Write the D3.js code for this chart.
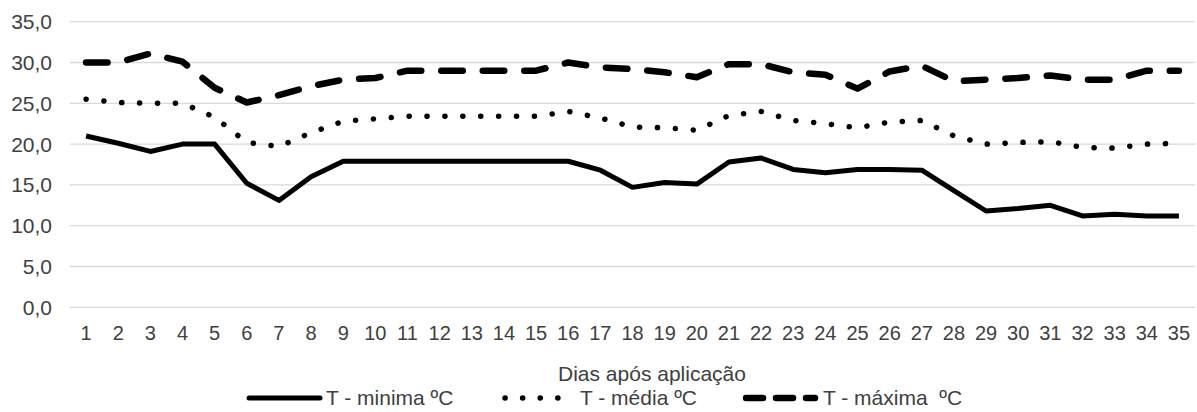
<!DOCTYPE html>
<html><head><meta charset="utf-8">
<script src="https://cdn.jsdelivr.net/npm/d3@7/dist/d3.min.js"></script>
<style>
body{margin:0;background:#fff;}
text{font-family:"Liberation Sans",Arial,sans-serif;fill:#404040;}
</style></head>
<body><svg id="c" width="1197" height="412"></svg>
<script>
const days = d3.range(1, 36).map(String);
const tMin = [21.0,20.1,19.1,20.0,20.0,15.2,13.1,16.0,17.9,17.9,17.9,17.9,17.9,17.9,17.9,17.9,16.8,14.7,15.3,15.1,17.8,18.3,16.9,16.5,16.9,16.9,16.8,14.3,11.8,12.1,12.5,11.2,11.4,11.2,11.2];
const tMed = [25.5,25.1,25.0,25.0,23.3,20.2,19.7,21.4,22.8,23.1,23.4,23.4,23.4,23.4,23.4,24.0,23.2,22.1,22.0,21.7,23.5,24.0,22.9,22.5,22.0,22.7,22.9,21.0,20.0,20.2,20.3,19.6,19.5,20.0,20.1];
const tMax = [30.0,30.0,31.1,30.1,26.9,25.1,26.0,27.1,27.9,28.1,29.0,29.0,29.0,29.0,29.0,30.0,29.4,29.2,28.8,28.2,29.8,29.8,28.8,28.5,26.8,28.9,29.6,27.7,27.9,28.1,28.4,27.9,27.9,29.0,29.0];
const yTicks = [0,5,10,15,20,25,30,35];
const seriesNames = ["T - minima ºC","T - média ºC","T - máxima  ºC"];

const svg = d3.select("#c");
const x = d3.scaleBand().domain(days).range([70,1195]);
const y = d3.scaleLinear().domain([0,35]).range([307.3,21.7]);

svg.append("g").selectAll("line").data(yTicks).join("line")
  .attr("x1",70).attr("x2",1195).attr("y1",d=>y(d)).attr("y2",d=>y(d))
  .attr("stroke","#d9d9d9").attr("stroke-width",1.3);

svg.append("g").selectAll("text").data(yTicks).join("text")
  .attr("x",52).attr("y",d=>y(d)+7.5).attr("text-anchor","end")
  .attr("font-size",21).text(d=>d.toFixed(1).replace(".",","));

svg.append("g").selectAll("text").data(days).join("text")
  .attr("x",d=>x(d)+x.bandwidth()/2).attr("y",339.5).attr("text-anchor","middle")
  .attr("font-size",20).text(d=>d);

svg.append("text").attr("x",652).attr("y",381).attr("text-anchor","middle")
  .attr("font-size",21).text("Dias após aplicação");

const styles = [
  {w:5, dash:null, cap:"butt"},
  {w:5.5, dash:"0.1 17.8", cap:"round"},
  {w:6.5, dash:"21.5 20", cap:"round"}
];
const data = [tMin,tMed,tMax];
const line = d3.line().x((d,i)=>x(days[i])+x.bandwidth()/2).y(d=>y(d));
data.forEach((s,k)=>{
  const p = svg.append("path").attr("d",line(s)).attr("fill","none").attr("stroke","#000")
    .attr("stroke-width",styles[k].w).attr("stroke-linecap",styles[k].cap).attr("stroke-linejoin","round");
  if(styles[k].dash) p.attr("stroke-dasharray",styles[k].dash);
});

// legend
const lg = [
  {x1:249,x2:320,tx:326,dash:null},
  {x1:505,x2:575,tx:580,dash:"0.1 17.5"},
  {x1:746,x2:815,tx:823,dash:"17 13"}
];
lg.forEach((l,k)=>{
  const p = svg.append("line").attr("x1",l.x1).attr("x2",l.x2).attr("y1",398).attr("y2",398)
    .attr("stroke","#000").attr("stroke-width",styles[k].w).attr("stroke-linecap",k==0?"round":styles[k].cap);
  if(l.dash) p.attr("stroke-dasharray",l.dash);
  svg.append("text").attr("x",l.tx).attr("y",405).attr("font-size",21)
    .style("white-space","pre").text(seriesNames[k]);
});
</script></body></html>
